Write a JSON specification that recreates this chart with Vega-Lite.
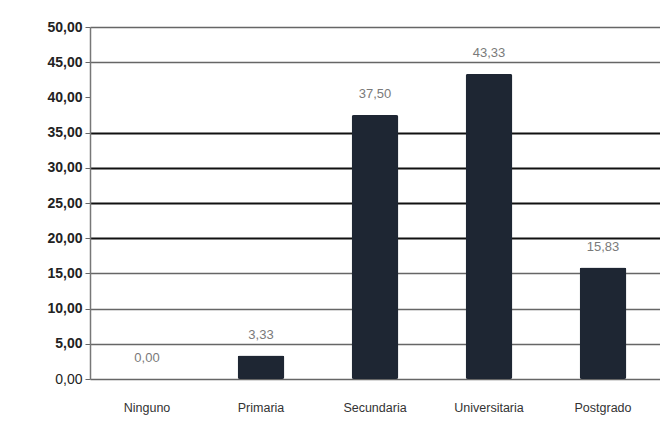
{
  "$schema": "https://vega.github.io/schema/vega-lite/v6.json",
  "autosize": "none",
  "width": 570,
  "height": 352,
  "padding": {"left": 90, "top": 27, "right": 0, "bottom": 57},
  "background": "#ffffff",
  "config": {
    "view": {"stroke": null},
    "font": "Liberation Sans",
    "locale": {"number": {"decimal": ",", "thousands": ".", "grouping": [3], "currency": ["", " €"]}}
  },
  "data": {
    "values": [
      {"nivel": "Ninguno", "valor": 0.0},
      {"nivel": "Primaria", "valor": 3.33},
      {"nivel": "Secundaria", "valor": 37.5},
      {"nivel": "Universitaria", "valor": 43.33},
      {"nivel": "Postgrado", "valor": 15.83}
    ]
  },
  "encoding": {
    "x": {
      "field": "nivel",
      "type": "nominal",
      "sort": null,
      "scale": {"paddingInner": 0.59, "paddingOuter": 0.295},
      "axis": {
        "title": null,
        "labelAngle": 0,
        "domain": false,
        "ticks": false,
        "labelPadding": 22,
        "labelFontSize": 12.5,
        "labelColor": "#333333"
      }
    },
    "y": {
      "field": "valor",
      "type": "quantitative",
      "scale": {"domain": [0, 50], "nice": false},
      "axis": {
        "title": null,
        "values": [0, 5, 10, 15, 20, 25, 30, 35, 40, 45, 50],
        "format": ".2f",
        "labelFontSize": 14,
        "labelColor": "#222222",
        "labelFontWeight": {"condition": {"test": "datum.value == 0", "value": "normal"}, "value": "bold"},
        "labelPadding": 3,
        "tickSize": 5,
        "tickColor": "#666666",
        "domainColor": "#777777",
        "domainWidth": 1.5,
        "grid": true,
        "gridOpacity": {"condition": {"test": "datum.value == 40", "value": 0}, "value": 1},
        "gridColor": {"condition": {"test": "datum.value >= 20 && datum.value <= 35", "value": "#111111"}, "value": "#666666"},
        "gridWidth": {"condition": {"test": "datum.value >= 20 && datum.value <= 35", "value": 2}, "value": 1.3}
      }
    }
  },
  "layer": [
    {
      "mark": {"type": "bar", "color": "#1e2633", "cornerRadius": 2}
    },
    {
      "mark": {"type": "text", "dy": -21, "fontSize": 13, "color": "#7a7a7a", "baseline": "middle"},
      "encoding": {
        "text": {"field": "valor", "type": "quantitative", "format": ".2f"}
      }
    }
  ]
}
